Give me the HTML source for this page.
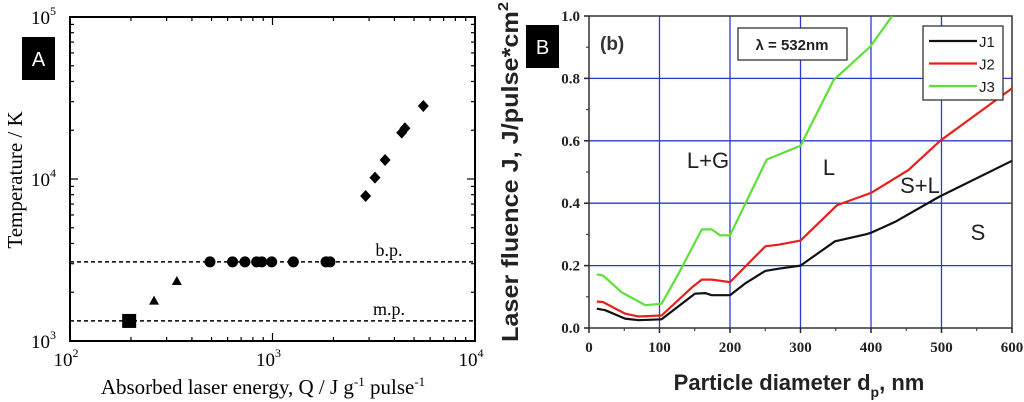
<!DOCTYPE html>
<html><head><meta charset="utf-8"><style>
html,body{margin:0;padding:0;background:#fff;}
svg{display:block;}
.serif{font-family:"Liberation Serif",serif;}
.sans{font-family:"Liberation Sans",sans-serif;}
</style></head><body>
<svg id="svg" width="1024" height="402" viewBox="0 0 1024 402" xmlns="http://www.w3.org/2000/svg">
<g id="pa"></g>
<g id="pb"></g>
</svg>
<script>
// Panel A data
const squareQ=[196], squareT=[1330];
const triQ=[260,337], triT=[1775,2345];
const circQ=[491,635,731,835,885,991,1268,1838,1922], circT=[3080,3080,3080,3080,3080,3080,3080,3080,3080];
const diaQ=[2884,3206,3597,4346,4508,5558], diaT=[7850,10190,13100,19320,20570,28240];
const bpT=3080, mpT=1330;
// Panel B data
const dp1=[11,23,51,70,103,150,165,174,200,221,250,269,300,349,392,400,434,496,600];
const J1=[0.062,0.057,0.03,0.025,0.028,0.11,0.112,0.105,0.105,0.142,0.183,0.19,0.2,0.278,0.3,0.305,0.34,0.42,0.536];
const dp2=[11,20,51,70,103,146,160,174,200,250,269,300,352,400,453,498,600];
const J2=[0.085,0.083,0.046,0.037,0.04,0.13,0.155,0.155,0.147,0.262,0.267,0.28,0.394,0.433,0.506,0.6,0.768];
const dp3=[11,20,46,80,103,127,160,174,186,200,252,300,347,399,430];
const J3=[0.172,0.168,0.115,0.073,0.078,0.174,0.316,0.316,0.297,0.297,0.54,0.584,0.795,0.902,1.0];
const xTicksB=[0,100,200,300,400,500,600];
const yTicksB=[0,0.2,0.4,0.6,0.8,1.0];

const NS="http://www.w3.org/2000/svg";
function mk(parent,tag,attrs,text){const e=document.createElementNS(NS,tag);for(const k in attrs)e.setAttribute(k,attrs[k]);if(text!==undefined)e.textContent=text;parent.appendChild(e);return e;}

// ---------- Panel A ----------
const pa=document.getElementById('pa');
const AX0=70,AX1=475,AY0=17,AY1=341;
const ax=q=>AX0+(Math.log10(q)-2)/2*(AX1-AX0);
const ay=t=>AY1-(Math.log10(t)-3)/2*(AY1-AY0);
let e;
e=mk(pa,'rect',{x:AX0,y:AY0,width:AX1-AX0,height:AY1-AY0,fill:'none',stroke:'#000','stroke-width':2});


for(let d=2;d<4;d++)for(let m=1;m<10;m++){const x=ax(m*Math.pow(10,d));const L=m===1?8:4;
 mk(pa,'line',{x1:x,y1:AY1,x2:x,y2:AY1-L,stroke:'#000','stroke-width':1.2});
 mk(pa,'line',{x1:x,y1:AY0,x2:x,y2:AY0+L,stroke:'#000','stroke-width':1.2});}
for(let d=3;d<5;d++)for(let m=1;m<10;m++){const y=ay(m*Math.pow(10,d));const L=m===1?8:4;
 mk(pa,'line',{x1:AX0,y1:y,x2:AX0+L,y2:y,stroke:'#000','stroke-width':1.2});
 mk(pa,'line',{x1:AX1,y1:y,x2:AX1-L,y2:y,stroke:'#000','stroke-width':1.2});}
[2,3,4].forEach(p=>{const g=mk(pa,'text',{x:ax(Math.pow(10,p))-4,y:366,'text-anchor':'middle','font-size':19,class:'serif'});
 
 
 mk(g,'tspan',{},'10');mk(g,'tspan',{dy:-9,'font-size':12},String(p));});
[3,4,5].forEach(p=>{const g=mk(pa,'text',{x:56,y:ay(Math.pow(10,p))+7,'text-anchor':'end','font-size':19,class:'serif'});
 
 
 mk(g,'tspan',{},'10');mk(g,'tspan',{dy:-9,'font-size':12},String(p));});
[[bpT,'b.p.'],[mpT,'m.p.']].forEach(([t,l])=>{
 e=mk(pa,'line',{x1:AX0,y1:ay(t),x2:AX1,y2:ay(t),stroke:'#000','stroke-width':1.5,'stroke-dasharray':'4,3'});
 
 
 e=mk(pa,'text',{x:389,y:ay(t)-6,'font-size':18,class:'serif','text-anchor':'middle'},l);
 
 });
squareQ.forEach((q,i)=>{e=mk(pa,'rect',{x:ax(q)-7,y:ay(squareT[i])-7,width:14,height:14,fill:'#000'});
 
 });
triQ.forEach((q,i)=>{const x=ax(q),y=ay(triT[i]);e=mk(pa,'polygon',{points:`${x},${y-5} ${x-5},${y+4} ${x+5},${y+4}`,fill:'#000'});
 
 });
circQ.forEach((q,i)=>{e=mk(pa,'circle',{cx:ax(q),cy:ay(circT[i]),r:5.5,fill:'#000'});
 
 });
diaQ.forEach((q,i)=>{const x=ax(q),y=ay(diaT[i]);e=mk(pa,'polygon',{points:`${x},${y-6} ${x+5.5},${y} ${x},${y+6} ${x-5.5},${y}`,fill:'#000'});
 
 });
e=mk(pa,'text',{x:0,y:0,'font-size':21,class:'serif','text-anchor':'middle',transform:'translate(22,180) rotate(-90)'},'Temperature / K');


e=mk(pa,'text',{x:263,y:394,'font-size':21,class:'serif','text-anchor':'middle'});


mk(e,'tspan',{},'Absorbed laser energy, Q / J g');mk(e,'tspan',{dy:-8,'font-size':13},'-1');mk(e,'tspan',{dy:8},' pulse');mk(e,'tspan',{dy:-8,'font-size':13},'-1');
e=mk(pa,'rect',{x:22,y:37,width:33,height:43,fill:'#000'});


e=mk(pa,'text',{x:38.5,y:66,'font-size':20,fill:'#fff',class:'sans','text-anchor':'middle'},'A');



// ---------- Panel B ----------
const pb=document.getElementById('pb');
const BX0=589,BX1=1012,BY0=16,BY1=328;
const bx=v=>BX0+v/600*(BX1-BX0);
const by=v=>BY1-v*(BY1-BY0);
xTicksB.forEach(v=>{if(v>0&&v<600){e=mk(pb,'line',{x1:bx(v),y1:BY0,x2:bx(v),y2:BY1,stroke:'#2a3bd0','stroke-width':1.3});
 
 }
 e=mk(pb,'text',{x:bx(v),y:352,'font-size':15,'font-weight':'bold',class:'serif','text-anchor':'middle',fill:'#222'},String(v));
 
 
 mk(pb,'line',{x1:bx(v),y1:BY1,x2:bx(v),y2:BY1+5,stroke:'#222','stroke-width':1.5});});
for(let v=50;v<600;v+=100)mk(pb,'line',{x1:bx(v),y1:BY1,x2:bx(v),y2:BY1+3,stroke:'#222','stroke-width':1});
yTicksB.forEach(v=>{if(v>0&&v<1){e=mk(pb,'line',{x1:BX0,y1:by(v),x2:BX1,y2:by(v),stroke:'#2a3bd0','stroke-width':1.3});
 
 }
 e=mk(pb,'text',{x:580,y:by(v)+5,'font-size':15,'font-weight':'bold',class:'serif','text-anchor':'end',fill:'#222'},v.toFixed(1));
 
 
 mk(pb,'line',{x1:BX0-5,y1:by(v),x2:BX0,y2:by(v),stroke:'#222','stroke-width':1.5});});
for(let v=0.1;v<1;v+=0.2)mk(pb,'line',{x1:BX0-3,y1:by(v),x2:BX0,y2:by(v),stroke:'#222','stroke-width':1});
e=mk(pb,'rect',{x:BX0,y:BY0,width:BX1-BX0,height:BY1-BY0,fill:'none',stroke:'#333','stroke-width':1.5});


function series(xs,ys,col,name){const d=xs.map((x,i)=>(i?'L':'M')+bx(x).toFixed(1)+','+by(ys[i]).toFixed(1)).join(' ');
 const p=mk(pb,'path',{d,fill:'none',stroke:col,'stroke-width':2.2,'stroke-linejoin':'round'});
 
 }
series(dp3,J3,'#5ee03a','line-j3');
series(dp2,J2,'#e8201c','line-j2');
series(dp1,J1,'#111','line-j1');
e=mk(pb,'text',{x:600,y:50,'font-size':19,'font-weight':'bold',class:'sans',fill:'#333'},'(b)');


e=mk(pb,'rect',{x:738,y:28,width:109,height:32,fill:'#fff',stroke:'#333','stroke-width':1.3});


e=mk(pb,'text',{x:792,y:50,'font-size':15,'font-weight':'bold',class:'sans','text-anchor':'middle',fill:'#222'},'λ = 532nm');


e=mk(pb,'rect',{x:923,y:26,width:80,height:74,fill:'#fff',stroke:'#333','stroke-width':1.3});


[['J1','#111'],['J2','#e8201c'],['J3','#5ee03a']].forEach(([l,c],i)=>{const y=41+i*22.5;
 mk(pb,'line',{x1:929,y1:y,x2:977,y2:y,stroke:c,'stroke-width':2.2});
 e=mk(pb,'text',{x:979,y:y+6,'font-size':15,class:'sans',fill:'#222'},l);
 
 });
[['L+G',708,168],['L',829,175],['S+L',920,193],['S',978,240]].forEach(([t,x,y])=>{
 e=mk(pb,'text',{x,y,'font-size':22,class:'sans','text-anchor':'middle',fill:'#222'},t);
 
 });
e=mk(pb,'text',{x:799,y:390,'font-size':22,'font-weight':'bold',class:'sans','text-anchor':'middle',fill:'#222'});


mk(e,'tspan',{},'Particle diameter  d');mk(e,'tspan',{dy:7,'font-size':14},'p');mk(e,'tspan',{dy:-7},', nm');
e=mk(pb,'text',{x:0,y:0,'font-size':23,'font-weight':'bold',class:'sans','text-anchor':'middle',fill:'#222',transform:'translate(518,172) rotate(-90)',textLength:340,lengthAdjust:'spacingAndGlyphs'});


mk(e,'tspan',{},'Laser fluence  J, J/pulse*cm');mk(e,'tspan',{dy:-10,'font-size':15},'2');
e=mk(pb,'rect',{x:526,y:25,width:33,height:43,fill:'#000'});


e=mk(pb,'text',{x:542.5,y:54,'font-size':20,fill:'#fff',class:'sans','text-anchor':'middle'},'B');


</script>
</body></html>
